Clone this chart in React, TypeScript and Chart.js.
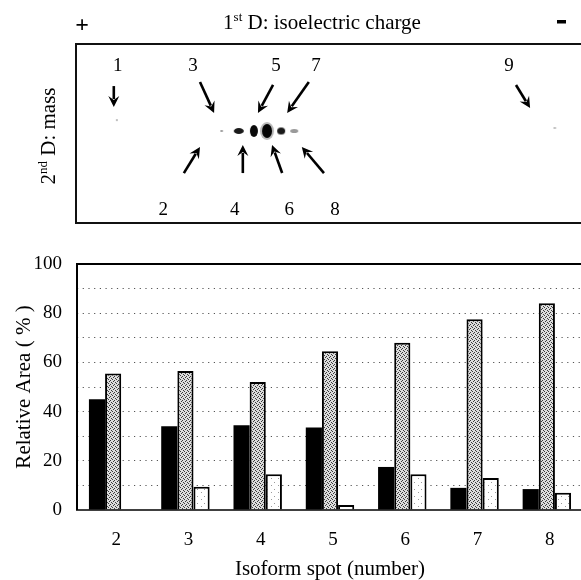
import React, { useEffect, useRef } from 'react';
import { Chart, registerables } from 'chart.js';

Chart.register(...registerables);

const SERIF = '"Liberation Serif", "Times New Roman", Times, serif';

// ---------- Bar chart data ----------
const categories = ['2', '3', '4', '5', '6', '7', '8'];
const seriesBlack = [45, 34, 34.5, 33.5, 17.5, 9, 8.5];
const seriesGray = [55.5, 56.5, 52, 64.5, 68, 77.5, 84];
const seriesWhite = [0, 9.5, 14.5, 2, 14.5, 13, 7];
const yMin = 0;
const yMax = 100;
const yGridStep = 10;
const yLabelStep = 20;

// ---------- 2-D gel panel data (relative units 0..100) ----------
const spotNames = ['1', '2', '3', '4', '5', '6', '7', '8', '9'];
const nameX = [8.3, 17.3, 23.2, 31.5, 39.7, 42.3, 47.6, 51.4, 85.9];
const nameY = [87.5, 7.3, 87.5, 7.3, 87.5, 7.3, 87.5, 7.3, 87.5];
const arrowTailX = [7.5, 21.4, 24.6, 33.1, 39.1, 40.9, 46.2, 49.2, 87.3];
const arrowTailY = [76.5, 27.9, 78.8, 27.9, 77.1, 27.9, 78.8, 27.9, 77.1];
const arrowHeadX = [7.5, 24.6, 27.4, 33.1, 36.1, 38.9, 41.9, 44.8, 90.1];
const arrowHeadY = [64.8, 42.5, 61.5, 43.6, 61.5, 43.6, 61.5, 42.5, 64.2];
const spotX = [8.1, 28.9, 32.3, 35.3, 37.9, 40.7, 43.3, 95.0];
const spotY = [57.5, 51.4, 51.4, 51.4, 51.4, 51.4, 51.4, 53.1];

// spot look (style only): width, height, colour
const spotW = [2, 3, 10, 8, 10, 8, 8, 3];
const spotH = [2, 2, 6, 12, 14, 7, 4, 2];
const spotC = ['#aaa', '#999', '#1a1a1a', '#0a0a0a', '#050505', '#1a1a1a', '#9a9a9a', '#bbb'];

type Seg = { t: string; sup?: boolean };

function drawRich(ctx: CanvasRenderingContext2D, segs: Seg[], cx: number, cy: number, size: number) {
  const big = `${size}px ${SERIF}`;
  const small = `${Math.round(size * 0.62)}px ${SERIF}`;
  let total = 0;
  for (const s of segs) {
    ctx.font = s.sup ? small : big;
    total += ctx.measureText(s.t).width;
  }
  let x = cx - total / 2;
  ctx.textAlign = 'left';
  ctx.textBaseline = 'alphabetic';
  const base = cy + size * 0.33;
  for (const s of segs) {
    ctx.font = s.sup ? small : big;
    ctx.fillText(s.t, x, s.sup ? base - size * 0.4 : base);
    x += ctx.measureText(s.t).width;
  }
}

function makePattern(bg: string, dot: string, size: number, dots: [number, number][]) {
  const c = document.createElement('canvas');
  c.width = size;
  c.height = size;
  const g = c.getContext('2d')!;
  g.fillStyle = bg;
  g.fillRect(0, 0, size, size);
  g.fillStyle = dot;
  for (const [x, y] of dots) g.fillRect(x, y, 1, 1);
  return g.createPattern(c, 'repeat')!;
}

function makeSpot(w: number, h: number, color: string, halo: boolean) {
  const c = document.createElement('canvas');
  c.width = w + 6;
  c.height = h + 6;
  const g = c.getContext('2d')!;
  if (halo) {
    g.fillStyle = 'rgba(120,120,120,0.5)';
    g.beginPath();
    g.ellipse(c.width / 2, c.height / 2, w / 2 + 2, h / 2 + 2, 0, 0, Math.PI * 2);
    g.fill();
  }
  g.fillStyle = color;
  g.beginPath();
  g.ellipse(c.width / 2, c.height / 2, w / 2, h / 2, 0, 0, Math.PI * 2);
  g.fill();
  return c;
}

const gelPlugin = {
  id: 'gelPlugin',
  afterDatasetsDraw(chart: any) {
    const { ctx, chartArea: a, scales } = chart;
    const sx = scales.x;
    const sy = scales.y;
    ctx.save();
    // frame
    ctx.strokeStyle = '#111';
    ctx.lineWidth = 2;
    ctx.beginPath();
    ctx.moveTo(chart.width, a.top);
    ctx.lineTo(a.left, a.top);
    ctx.lineTo(a.left, a.bottom);
    ctx.lineTo(chart.width, a.bottom);
    ctx.stroke();

    // arrows
    ctx.fillStyle = '#000';
    ctx.strokeStyle = '#000';
    for (let i = 0; i < arrowTailX.length; i++) {
      const x1 = sx.getPixelForValue(arrowTailX[i]);
      const y1 = sy.getPixelForValue(arrowTailY[i]);
      const x2 = sx.getPixelForValue(arrowHeadX[i]);
      const y2 = sy.getPixelForValue(arrowHeadY[i]);
      const dx = x2 - x1;
      const dy = y2 - y1;
      const len = Math.hypot(dx, dy);
      const ux = dx / len;
      const uy = dy / len;
      const hl = 11;
      const hw = 5.5;
      ctx.lineWidth = 2.6;
      ctx.beginPath();
      ctx.moveTo(x1, y1);
      ctx.lineTo(x2 - ux * (hl - 3), y2 - uy * (hl - 3));
      ctx.stroke();
      ctx.beginPath();
      ctx.moveTo(x2, y2);
      ctx.lineTo(x2 - ux * hl - uy * hw, y2 - uy * hl + ux * hw);
      ctx.lineTo(x2 - ux * (hl - 4), y2 - uy * (hl - 4));
      ctx.lineTo(x2 - ux * hl + uy * hw, y2 - uy * hl - ux * hw);
      ctx.closePath();
      ctx.fill();
    }

    // spot numbers
    ctx.fillStyle = '#000';
    ctx.font = `19px ${SERIF}`;
    ctx.textAlign = 'center';
    ctx.textBaseline = 'middle';
    for (let i = 0; i < spotNames.length; i++) {
      ctx.fillText(spotNames[i], sx.getPixelForValue(nameX[i]), sy.getPixelForValue(nameY[i]));
    }

    // headings
    drawRich(ctx, [{ t: '1' }, { t: 'st', sup: true }, { t: ' D: isoelectric charge' }], 322, 22, 21);
    ctx.font = `bold 24px ${SERIF}`;
    ctx.textAlign = 'center';
    ctx.textBaseline = 'middle';
    ctx.fillText('+', 82, 26);
    ctx.fillRect(557, 20, 9, 3.5);

    ctx.translate(48, 136);
    ctx.rotate(-Math.PI / 2);
    drawRich(ctx, [{ t: '2' }, { t: 'nd', sup: true }, { t: ' D: mass' }], 0, 0, 21);
    ctx.restore();
  },
};

const barFramePlugin = {
  id: 'barFramePlugin',
  afterDatasetsDraw(chart: any) {
    const { ctx, chartArea: a } = chart;
    ctx.save();
    ctx.strokeStyle = '#000';
    ctx.lineWidth = 2;
    ctx.beginPath();
    ctx.moveTo(a.left, a.bottom);
    ctx.lineTo(a.left, a.top);
    ctx.lineTo(chart.width, a.top);
    ctx.stroke();
    ctx.lineWidth = 1.6;
    ctx.beginPath();
    ctx.moveTo(a.left - 1, a.bottom);
    ctx.lineTo(chart.width, a.bottom);
    ctx.stroke();
    ctx.restore();
  },
};

export default function App() {
  const topRef = useRef<HTMLCanvasElement>(null);
  const botRef = useRef<HTMLCanvasElement>(null);

  useEffect(() => {
    const halos = [false, false, false, false, true, false, false, false];
    const spotStyles = spotX.map((_, i) => makeSpot(spotW[i], spotH[i], spotC[i], halos[i]));

    const top = new Chart(topRef.current!, {
      type: 'scatter',
      data: {
        datasets: [
          {
            data: spotX.map((x, i) => ({ x, y: spotY[i] })),
            pointStyle: spotStyles as any,
            pointRadius: 4,
            backgroundColor: '#000',
            borderWidth: 0,
          },
        ],
      },
      options: {
        animation: false,
        responsive: false,
        maintainAspectRatio: false,
        layout: { padding: { left: 76, top: 44, right: 10, bottom: 12 } },
        plugins: { legend: { display: false }, tooltip: { enabled: false } },
        scales: {
          x: { type: 'linear', min: 0, max: 100, display: false },
          y: { type: 'linear', min: 0, max: 100, display: false },
        },
      },
      plugins: [gelPlugin],
    });

    const grayPat = makePattern('#dcdcdc', '#3a3a3a', 4, [
      [0, 0],
      [2, 1],
      [1, 2],
      [3, 3],
    ]);
    const whitePat = makePattern('#ffffff', '#9a9a9a', 7, [
      [1, 2],
      [5, 5],
    ]);

    const tickFont = { family: SERIF, size: 19 };
    const titleFont = { family: SERIF, size: 21 };

    const bot = new Chart(botRef.current!, {
      type: 'bar',
      data: {
        labels: categories,
        datasets: [
          { data: seriesBlack, backgroundColor: '#000', borderWidth: 0 },
          {
            data: seriesGray,
            backgroundColor: grayPat as any,
            borderColor: '#000',
            borderWidth: 2,
          },
          {
            data: seriesWhite,
            backgroundColor: whitePat as any,
            borderColor: '#000',
            borderWidth: ((c: any) => (c.raw === 0 ? 0 : 2)) as any,
          },
        ],
      },
      options: {
        animation: false,
        responsive: false,
        maintainAspectRatio: false,
        layout: { padding: { left: 0, top: 29, right: 7, bottom: 0 } },
        datasets: { bar: { categoryPercentage: 0.67, barPercentage: 1 } },
        plugins: { legend: { display: false }, tooltip: { enabled: false } },
        scales: {
          x: {
            grid: { display: false },
            border: { display: false },
            ticks: {
              font: tickFont,
              color: '#000',
              padding: 11,
              labelOffset: 3,
              autoSkip: false,
              maxRotation: 0,
            },
            title: {
              display: true,
              text: 'Isoform spot (number)',
              font: titleFont,
              color: '#000',
              padding: { top: 0, bottom: 8 },
            },
            afterFit: (s: any) => {
              s.height = 80;
            },
          },
          y: {
            min: yMin,
            max: yMax,
            grid: {
              drawTicks: false,
              lineWidth: 1,
              color: (c: any) =>
                c.tick && (c.tick.value === yMin || c.tick.value === yMax) ? 'rgba(0,0,0,0)' : '#555',
            },
            border: { display: false, dash: [1.2, 4.5] },
            ticks: {
              stepSize: yGridStep,
              autoSkip: false,
              font: tickFont,
              color: '#000',
              padding: 15,
              callback: (v: any) => (Number(v) % yLabelStep === 0 ? String(v) : ''),
            },
            title: {
              display: true,
              text: 'Relative Area ( % )',
              font: titleFont,
              color: '#000',
              padding: { top: 12, bottom: 0 },
            },
            afterFit: (s: any) => {
              s.width = 77;
            },
          },
        },
      },
      plugins: [barFramePlugin],
    });

    return () => {
      top.destroy();
      bot.destroy();
    };
  }, []);

  return (
    <div
      style={{
        position: 'absolute',
        left: 0,
        top: 0,
        width: 581,
        height: 580,
        overflow: 'hidden',
        background: '#fff',
      }}
    >
      <canvas
        ref={topRef}
        width={590}
        height={235}
        style={{ position: 'absolute', left: 0, top: 0, width: 590, height: 235 }}
      />
      <canvas
        ref={botRef}
        width={590}
        height={355}
        style={{ position: 'absolute', left: 0, top: 235, width: 590, height: 355 }}
      />
    </div>
  );
}
